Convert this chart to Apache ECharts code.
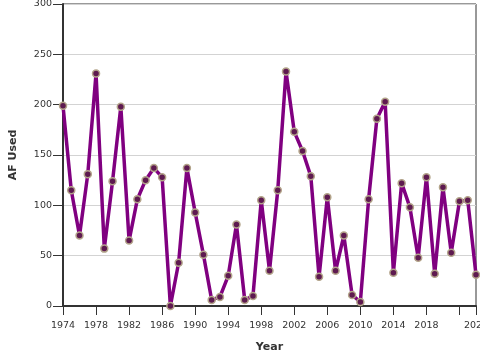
<!DOCTYPE html>
<html><head><meta charset="utf-8">
<script src="https://cdn.jsdelivr.net/npm/echarts@6/dist/echarts.min.js"></script>
<style>html,body{margin:0;padding:0;background:#fff}#c{width:480px;height:360px}</style>
</head><body><div id="c"></div>
<script>
var years = [1974,1975,1976,1977,1978,1979,1980,1981,1982,1983,1984,1985,1986,1987,1988,1989,1990,1991,1992,1993,1994,1995,1996,1997,1998,1999,2000,2001,2002,2003,2004,2005,2006,2007,2008,2009,2010,2011,2012,2013,2014,2015,2016,2017,2018,2019,2020,2021,2022,2023,2024];
var afUsed = [199,115,70,131,231,57,124,198,65,106,125,137,128,0,43,137,93,51,6,9,30,81,6,10,105,35,115,233,173,154,129,29,108,35,70,11,4,106,186,203,33,122,98,48,128,32,118,53,104,105,31];
var yTicks = [0,50,100,150,200,250,300];
var hiddenXLabels = [2022];

var data = years.map(function(y,i){return [y, afUsed[i]];});
var chart = echarts.init(document.getElementById('c'));
var font = 'DejaVu Sans';
chart.setOption({
  animation:false,
  backgroundColor:'#fff',
  grid:{left:63,right:4,top:4,bottom:54,show:true,borderColor:'#333',borderWidth:1,
    containLabel:false,outerBoundsMode:'none'},
  xAxis:{type:'value',min:1974,max:2024,interval:4,
    name:'Year',nameLocation:'middle',nameGap:36,
    nameTextStyle:{fontFamily:font,fontWeight:'bold',fontSize:11,color:'#333'},
    axisLine:{show:true,lineStyle:{color:'#333',width:2}},
    axisTick:{show:true,length:9,lineStyle:{color:'#333'}},
    axisLabel:{fontFamily:font,fontSize:9.5,color:'#333',margin:15,
      formatter:function(v){return hiddenXLabels.indexOf(v)>=0?'':String(v);}},
    splitLine:{show:false}},
  yAxis:{type:'value',min:yTicks[0],max:yTicks[yTicks.length-1],interval:50,
    name:'AF Used',nameLocation:'middle',nameGap:44,
    nameTextStyle:{fontFamily:font,fontWeight:'bold',fontSize:11,color:'#333'},
    axisLine:{show:true,lineStyle:{color:'#333',width:2}},
    axisTick:{show:true,length:10,lineStyle:{color:'#333'}},
    axisLabel:{fontFamily:font,fontSize:9.5,color:'#333',margin:11},
    splitLine:{show:true,lineStyle:{color:'#d3d3d3',width:1}}},
  series:[{type:'line',data:data,
    lineStyle:{color:'#800080',width:3.5},
    symbol:'circle',symbolSize:7,
    itemStyle:{color:'#5e1a50',borderColor:'#b3a48a',borderWidth:1.5}}]
});
</script></body></html>
